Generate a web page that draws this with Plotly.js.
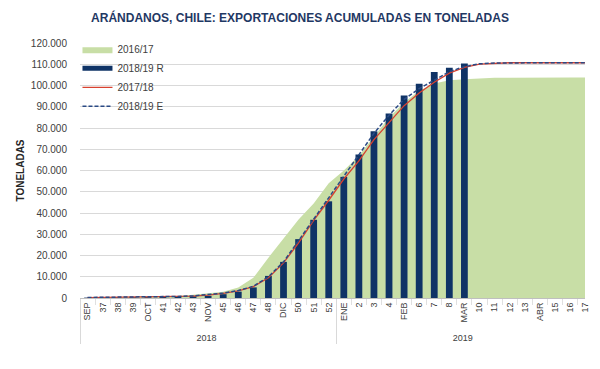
<!DOCTYPE html>
<html><head><meta charset="utf-8">
<script src="https://cdn.plot.ly/plotly-3.0.1.min.js"></script>
<style>html,body{margin:0;padding:0;background:#fff}#chart{width:600px;height:369px}</style>
</head><body><div id="chart"></div>
<script>
const years = ['2018','2018','2018','2018','2018','2018','2018','2018','2018','2018','2018','2018','2018','2018','2018','2018','2018',
               '2019','2019','2019','2019','2019','2019','2019','2019','2019','2019','2019','2019','2019','2019','2019','2019','2019'];
const weeks = ['SEP','37','38','39','OCT','41','42','43','NOV','45','46','47','48','DIC','50','51','52',
               'ENE','2','3','4','FEB','6','7','8','MAR','10','11','12','13','ABR','15','16','17'];
// 2016/17 (area)
const area1617 = [200,300,400,500,600,800,1000,1500,2200,3000,5000,9500,19000,28000,37000,44500,54000,
                  60000,67000,76000,85000,92000,97500,101000,102500,103000,103400,103600,103700,103800,103800,103800,103800,103800];
// 2018/19 R (bars, up to MAR)
const bars1819R = [200,250,300,350,400,500,600,800,1000,1800,3000,5000,10400,17000,27700,36800,45500,
                   57000,67500,78500,86800,95300,100800,106300,108300,110400];
// 2017/18 (red line)
const line1718 = [200,250,300,350,450,550,700,900,1400,2200,3400,5400,9500,16500,26000,36500,46000,
                  56000,64500,74500,82500,90500,96500,101500,105800,108500,110100,110500,110700,110700,110700,110700,110700,110700];
// 2018/19 E (dashed line)
const line1819E = [250,300,350,400,500,600,750,1000,1500,2300,3500,5500,10000,17000,27000,37000,47000,
                   57500,67000,77500,86000,93500,98500,102700,106500,108900,110200,110600,110700,110700,110700,110700,110700,110700];

const nBars = bars1819R.length;
const xAll = [years, weeks];
const xBars = [years.slice(0, nBars), weeks.slice(0, nBars)];

const NAVY = '#0f3366';
const traces = [
  {type:'scatter', mode:'lines', name:'2016/17', x:xAll, y:area1617, fill:'tozeroy',
   fillcolor:'#c8dea6', line:{width:0, color:'#c8dea6'}, yaxis:'y', hoverinfo:'skip'},
  {type:'scatter', mode:'lines', name:'2018/19 R', x:[[years[0]],[weeks[0]]], y:[null],
   line:{width:5, color:NAVY}, yaxis:'y2', hoverinfo:'skip'},
  {type:'bar', name:'2018/19 R', x:xBars, y:bars1819R, marker:{color:NAVY},
   yaxis:'y2', showlegend:false},
  {type:'scatter', mode:'lines', name:'2017/18', x:xAll, y:line1718,
   line:{width:1.3, color:'#d8412f'}, yaxis:'y2'},
  {type:'scatter', mode:'lines', name:'2018/19 E', x:xAll, y:line1819E,
   line:{width:1.5, color:'#2a4a85', dash:'4px,2px'}, yaxis:'y2'}
];

const layout = {
  width:600, height:369,
  margin:{l:80, r:15, t:43, b:71},
  paper_bgcolor:'#ffffff', plot_bgcolor:'#ffffff',
  separators:',.',
  font:{family:'"Liberation Sans", Arial, sans-serif', size:10, color:'#404040'},
  title:{text:'ARÁNDANOS, CHILE: EXPORTACIONES ACUMULADAS EN TONELADAS',
         font:{family:'"Liberation Sans", Arial, sans-serif', size:12, color:'#1f3864', weight:'bold'},
         x:0.5, xref:'container', xanchor:'center', y:1-18/369, yref:'container', yanchor:'middle'},
  showlegend:true,
  legend:{x:-0.005, xanchor:'left', y:1.032, yanchor:'top', bgcolor:'rgba(0,0,0,0)',
          font:{size:10, color:'#404040'}, tracegroupgap:0, traceorder:'normal'},
  bargap:0.55,
  xaxis:{type:'multicategory', tickangle:-90, showgrid:false, showline:true, linecolor:'#bfbfbf',
         ticks:'outside', ticklen:6, tickcolor:'#e0e0e0',
         showdividers:true, dividercolor:'#d9d9d9', dividerwidth:1,
         tickfont:{size:9, color:'#404040'}},
  yaxis:{range:[0,120000], dtick:10000, tickformat:',d', gridcolor:'#d9d9d9', gridwidth:1,
         zeroline:false, showline:false, ticks:'outside', ticklen:10, tickcolor:'rgba(0,0,0,0)',
         tickfont:{size:10, color:'#404040'},
         title:{text:'TONELADAS', standoff:4, font:{size:10, color:'#262626', weight:'bold'}}},
  yaxis2:{overlaying:'y', range:[0,120000], visible:false}
};

Plotly.newPlot('chart', traces, layout, {displayModeBar:false, staticPlot:true});
</script>
</body></html>
